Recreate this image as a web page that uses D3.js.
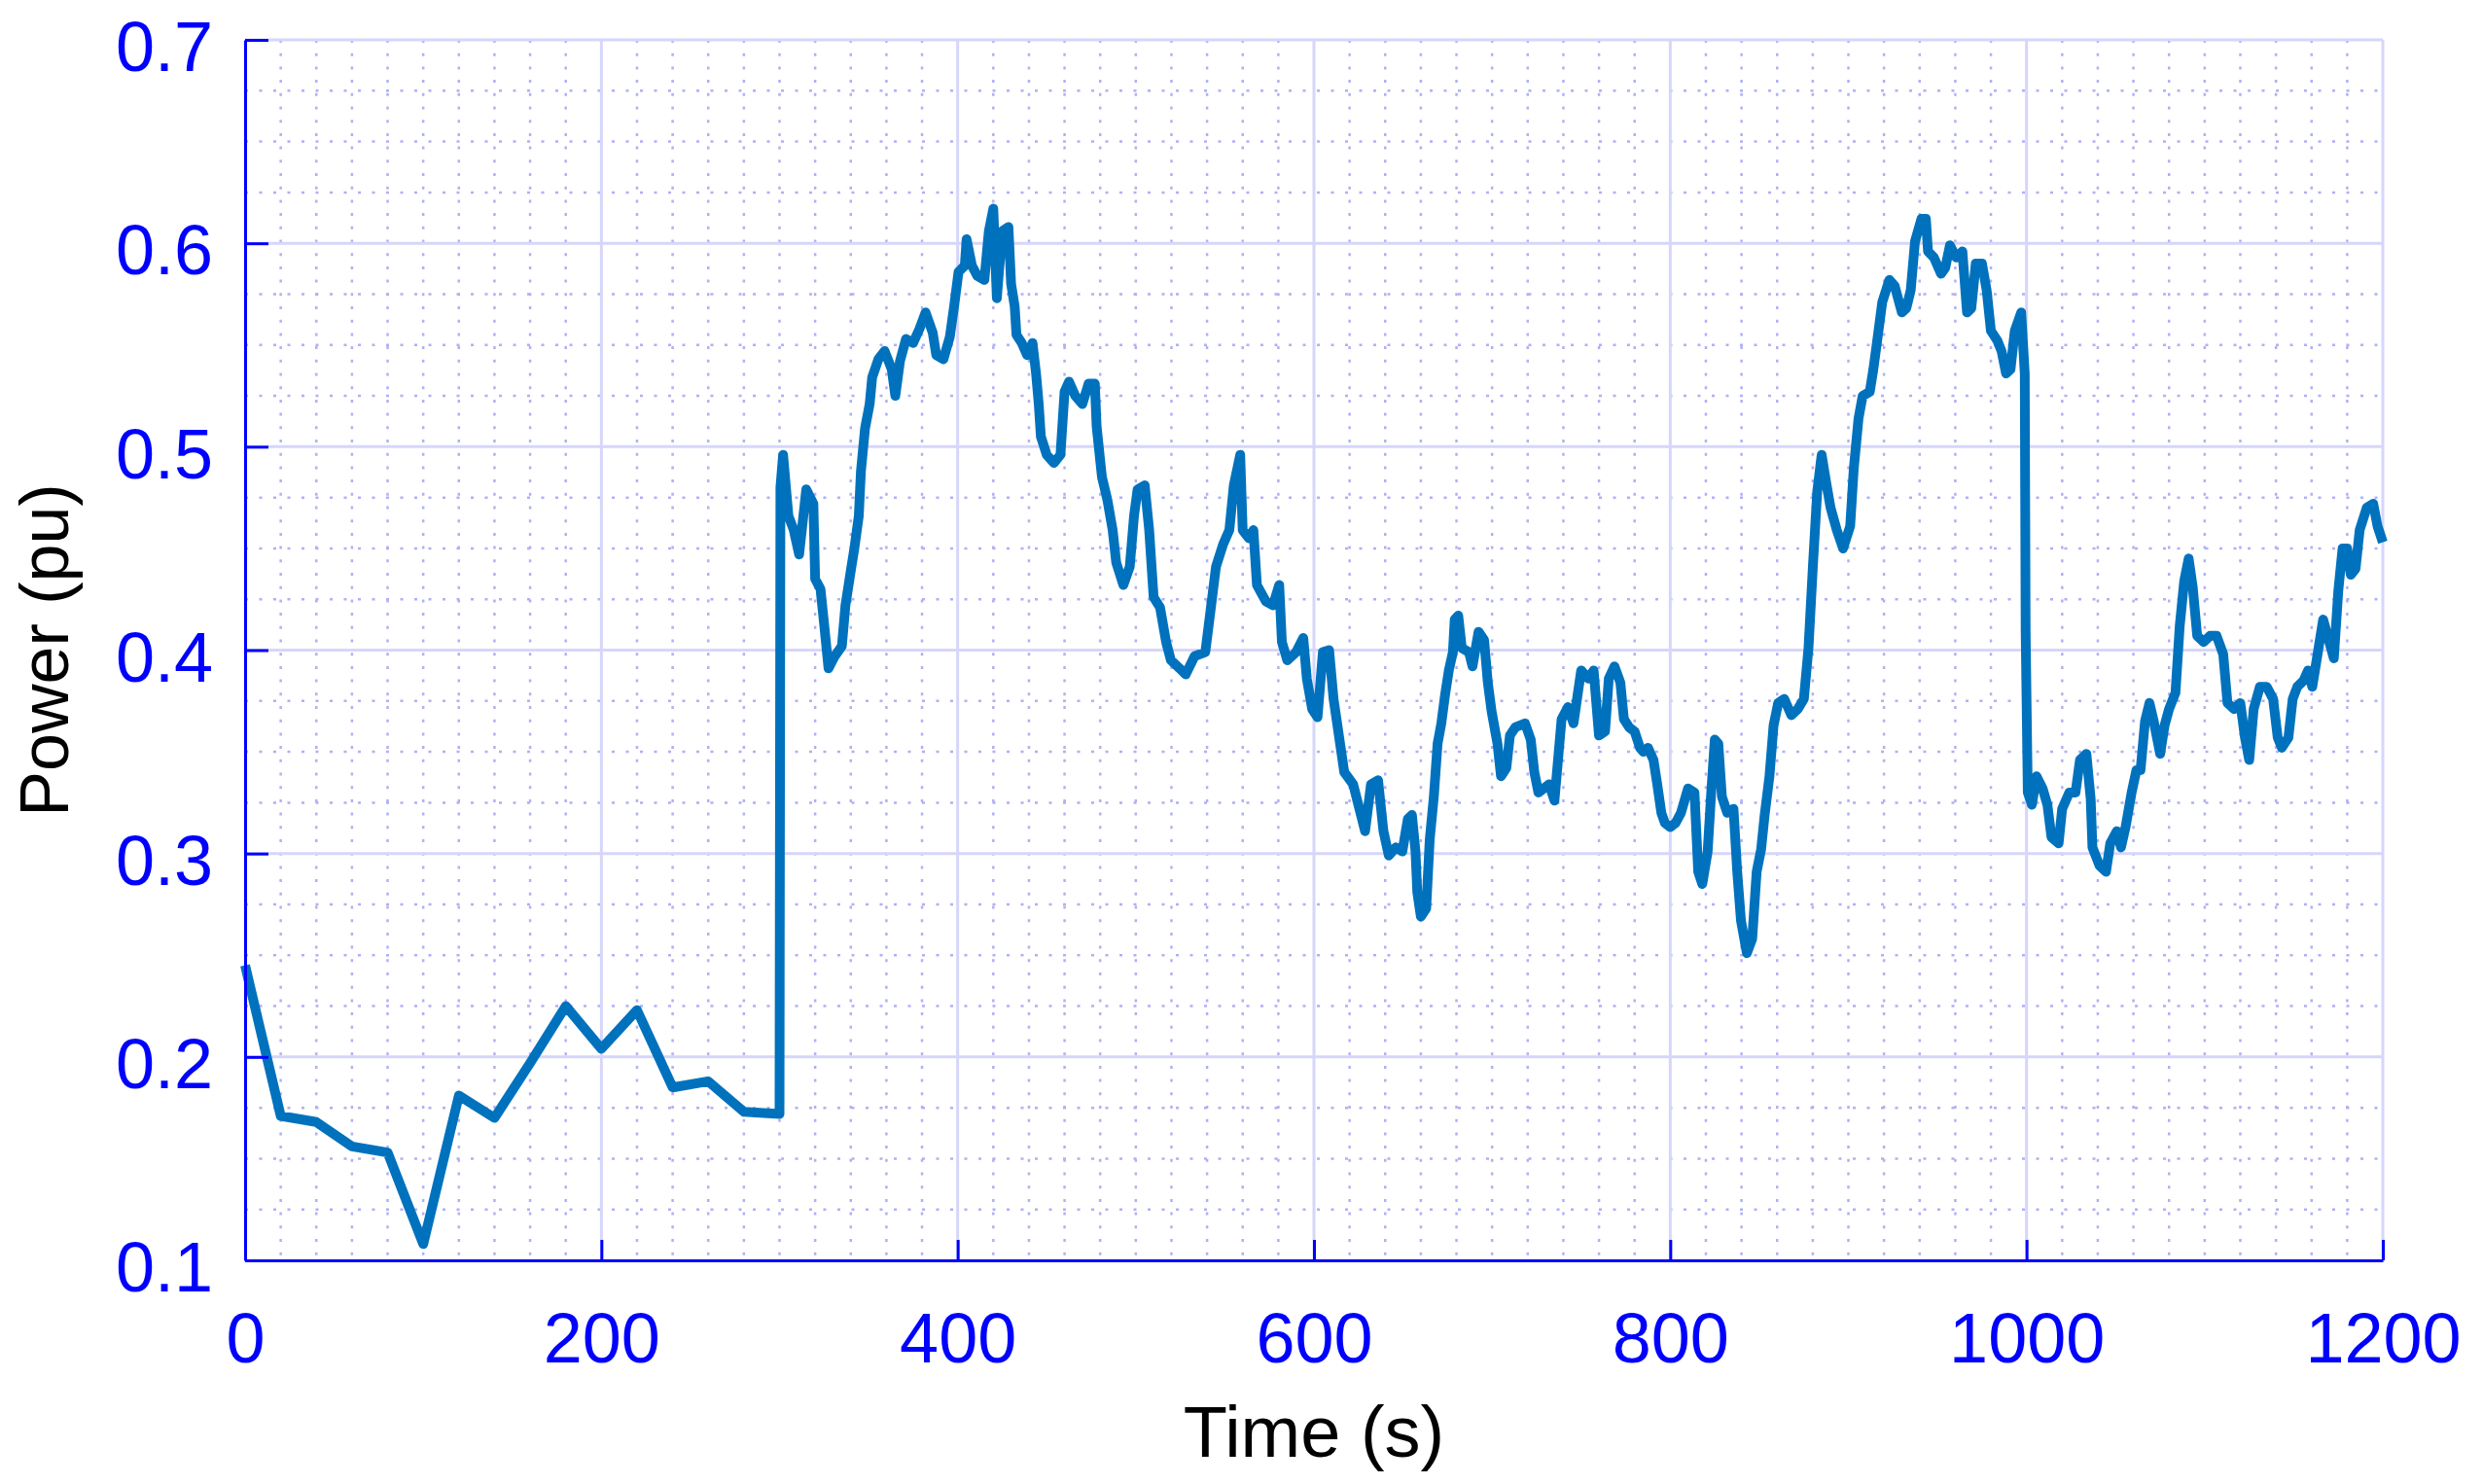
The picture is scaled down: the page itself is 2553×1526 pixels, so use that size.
<!DOCTYPE html>
<html><head><meta charset="utf-8">
<script src="https://cdn.jsdelivr.net/npm/d3@7"></script>
<style>html,body{margin:0;padding:0;background:#fff;} svg{display:block;}</style>
</head><body>
<svg id="chart" width="2553" height="1526"></svg>
<script>
// ---- data ----
const timeSeconds = [
  0,20,40,60,80,100,120,140,160,180,200,220,240,260,280,300,
  300.5,302,305,308,311,315,319,320,323,325,327.5,331,335,337,340,342,344.5,345.7,348,350.6,352,355.5,359,363,365,367.6,371,375,378.6,382,386,388,392,395.6,398,400.5,404,405,408,411,415,417.5,420,422,425,428.5,430,432,433,436,439,442,444,445.5,446.7,450,454,457.7,460,462.5,466,470,473.5,477,478,481,484,487,489,493,496.6,499,501,505,507.5,510,513.6,517,519.7,524.6,528,533,539,541.6,545,549,552.5,555,558.6,560,563.5,566,568,573,577,580.5,582,585,590,594,596,599,602,605,608.5,611,613,617,622,
  628.7,632,636,639,642,646,649.6,652.7,655,657,658,660,663,665,667.3,669.4,671.5,673.6,675.7,678,679,681,683,687,689,692.4,695.5,697.6,699.7,703,705,708,710,713,718.5,721.7,723.7,726,729,732,735,737,739,742.6,745.7,748,750,754,757,760,763.4,765.5,768.7,772,774,777,780,783,785,787.5,790.6,792.7,795,797,800,803,806,810,813.6,815.7,818,821,823,825,827,829,832,835.5,837.6,839.7,843,
  846,848.5,851,853,855.7,858,860.6,864,868,871.6,875,877.6,880,882.5,885,887.4,890,893.5,897,901,903,905.7,908,912,914,916.6,919,923,926,930,932.5,935,937.4,941,943.5,944.7,948,952,954.4,957,960.5,964,966.6,969,971.5,975,977.6,980,983.7,986,988.5,991,993.4,997,999,999.5,
  1000.7,1003,1005.6,1009,1011.7,1014,1018,1020,1024,1027.5,1030,1033.6,1036,1037,1041,1044.6,1047,1050.7,1053,1055.6,1059,1061.7,1064,1066.5,1069,1071.4,1075,1077.5,1080,1083.6,1086,1088.5,1091,1093.3,1095.8,1099.4,1103,1106.7,1110.4,1112.8,1116.5,1120,1122.6,1125,1127.5,1131,1134.8,1138.4,1141,1143.3,1147,1149.4,1152,1155.5,1158,1160.4,1163,1166.5,1169,1172.5,1175,1177.4,1180,1182,1184.7,1187,1191,1194.6,1197,1200
];
const powerPu = [
  0.245,0.171,0.168,0.156,0.153,0.108,0.181,0.170,0.197,0.225,0.204,0.223,0.185,0.188,0.173,0.172,
  0.480,0.496,0.466,0.459,0.447,0.479,0.472,0.435,0.430,0.413,0.391,0.397,0.402,0.422,0.439,0.450,0.466,0.488,0.509,0.521,0.534,0.543,0.547,0.538,0.525,0.542,0.553,0.551,0.558,0.566,0.556,0.545,0.543,0.554,0.569,0.586,0.589,0.602,0.589,0.584,0.582,0.606,0.617,0.573,0.606,0.608,0.580,0.569,0.555,0.551,0.545,0.551,0.536,0.521,0.505,0.496,0.492,0.496,0.527,0.532,0.525,0.521,0.531,0.531,0.510,0.485,0.474,0.459,0.443,0.432,0.441,0.466,0.479,0.481,0.459,0.426,0.421,0.404,0.395,0.391,0.388,0.397,0.399,0.417,0.441,0.452,0.459,0.481,0.496,0.459,0.455,0.459,0.432,0.424,0.422,0.432,0.404,0.395,0.399,0.406,0.386,0.371,0.367,0.399,0.400,0.376,0.364,0.340,0.334,
  0.311,0.334,0.336,0.311,0.299,0.303,0.301,0.317,0.319,0.301,0.281,0.269,0.273,0.307,0.328,0.354,0.364,0.378,0.390,0.399,0.415,0.417,0.401,0.399,0.392,0.409,0.405,0.384,0.370,0.354,0.338,0.342,0.358,0.362,0.364,0.356,0.340,0.330,0.332,0.334,0.326,0.346,0.366,0.372,0.364,0.378,0.390,0.386,0.390,0.358,0.360,0.386,0.392,0.384,0.366,0.362,0.360,0.352,0.350,0.352,0.346,0.334,0.320,0.315,0.313,0.315,0.320,0.332,0.330,0.291,0.285,0.301,0.330,0.356,0.354,0.328,0.320,0.322,0.291,0.267,0.251,
  0.258,0.291,0.302,0.319,0.338,0.363,0.374,0.376,0.368,0.371,0.376,0.401,0.440,0.478,0.496,0.483,0.470,0.459,0.450,0.461,0.489,0.514,0.525,0.527,0.538,0.555,0.571,0.582,0.579,0.566,0.568,0.577,0.601,0.612,0.612,0.596,0.593,0.585,0.588,0.599,0.593,0.596,0.566,0.568,0.590,0.590,0.577,0.557,0.552,0.547,0.536,0.538,0.557,0.566,0.536,0.409,
  0.330,0.324,0.338,0.332,0.324,0.308,0.305,0.322,0.330,0.330,0.346,0.349,0.327,0.303,0.294,0.291,0.305,0.311,0.303,0.313,0.330,0.341,0.341,0.365,0.374,0.365,0.349,0.363,0.371,0.379,0.412,0.434,0.445,0.431,0.407,0.404,0.407,0.407,0.398,0.374,0.371,0.374,0.357,0.346,0.371,0.382,0.382,0.376,0.357,0.352,0.357,0.376,0.382,0.385,0.390,0.382,0.396,0.415,0.407,0.396,0.429,0.450,0.450,0.437,0.440,0.459,0.470,0.472,0.461,0.453
];
const xTickValues = [0,200,400,600,800,1000,1200];
const xTickLabels = ["0","200","400","600","800","1000","1200"];
const yTickValues = [0.1,0.2,0.3,0.4,0.5,0.6,0.7];
const yTickLabels = ["0.1","0.2","0.3","0.4","0.5","0.6","0.7"];
const xAxisTitle = "Time (s)";
const yAxisTitle = "Power (pu)";

// ---- layout ----
const FONT = "'Liberation Sans', Arial, Helvetica, sans-serif";
const plot = {left: 252, right: 2450, top: 41, bottom: 1296};
const svg = d3.select("#chart");
const x = d3.scaleLinear().domain([0, 1200]).range([plot.left, plot.right]);
const y = d3.scaleLinear().domain([0.1, 0.7]).range([plot.bottom, plot.top]);

const isMajorX = v => xTickValues.some(t => Math.abs(t - v) < 1e-6);
const isMajorY = v => yTickValues.some(t => Math.abs(t - v) < 1e-6);
const xMinor = d3.range(0, 1200.001, 20).filter(v => !isMajorX(v));
const yMinor = d3.range(0.1, 0.70001, 0.025).filter(v => !isMajorY(v));

const grid = svg.append("g");
// minor dotted grid
grid.selectAll("line.xm").data(xMinor).join("line")
  .attr("x1", d => x(d)).attr("x2", d => x(d))
  .attr("y1", plot.top).attr("y2", plot.bottom)
  .attr("stroke", "#b0b0f6").attr("stroke-width", 2.5)
  .attr("stroke-dasharray", "3,10.7");
grid.selectAll("line.ym").data(yMinor).join("line")
  .attr("x1", plot.left).attr("x2", plot.right)
  .attr("y1", d => y(d)).attr("y2", d => y(d))
  .attr("stroke", "#b0b0f6").attr("stroke-width", 2.5)
  .attr("stroke-dasharray", "3,11.5");
// major solid grid
grid.selectAll("line.xM").data(xTickValues.filter(v => v > 0)).join("line")
  .attr("x1", d => x(d)).attr("x2", d => x(d))
  .attr("y1", plot.top).attr("y2", plot.bottom)
  .attr("stroke", "#d6d6fb").attr("stroke-width", 3);
grid.selectAll("line.yM").data(yTickValues.filter(v => v > 0.1)).join("line")
  .attr("x1", plot.left).attr("x2", plot.right)
  .attr("y1", d => y(d)).attr("y2", d => y(d))
  .attr("stroke", "#d6d6fb").attr("stroke-width", 3);

// data line
const pts = timeSeconds.map((t, i) => [t, powerPu[i]]);
svg.append("path")
  .datum(pts)
  .attr("fill", "none")
  .attr("stroke", "#0072BD")
  .attr("stroke-width", 10)
  .attr("stroke-linejoin", "round")
  .attr("d", d3.line().x(d => x(d[0])).y(d => y(d[1])));

// axes
const xAxis = d3.axisBottom(x).tickValues(xTickValues)
  .tickFormat((d, i) => xTickLabels[i]).tickSizeInner(-21).tickSizeOuter(0).tickPadding(54);
const yAxis = d3.axisLeft(y).tickValues(yTickValues)
  .tickFormat((d, i) => yTickLabels[i]).tickSizeInner(-24).tickSizeOuter(0).tickPadding(33);

const gx = svg.append("g").attr("transform", `translate(0,${plot.bottom})`).call(xAxis);
const gy = svg.append("g").attr("transform", `translate(${plot.left},0)`).call(yAxis);
[gx, gy].forEach(g => {
  g.select(".domain").attr("stroke", "#0000ff").attr("stroke-width", 3);
  g.selectAll(".tick line").attr("stroke", "#0000ff").attr("stroke-width", 3);
  g.selectAll(".tick text").attr("fill", "#0000ff")
    .style("font-family", FONT).style("font-size", "72px");
});
gy.selectAll(".tick text").attr("dy", "0.44em");

// axis titles
svg.append("text")
  .attr("x", (plot.left + plot.right) / 2).attr("y", 1498)
  .attr("text-anchor", "middle")
  .style("font-family", FONT).style("font-size", "74px").attr("fill", "#000")
  .text(xAxisTitle);
svg.append("text")
  .attr("transform", `translate(70,${(plot.top + plot.bottom) / 2}) rotate(-90)`)
  .attr("text-anchor", "middle")
  .style("font-family", FONT).style("font-size", "70px").attr("fill", "#000")
  .text(yAxisTitle);
</script>
</body></html>
